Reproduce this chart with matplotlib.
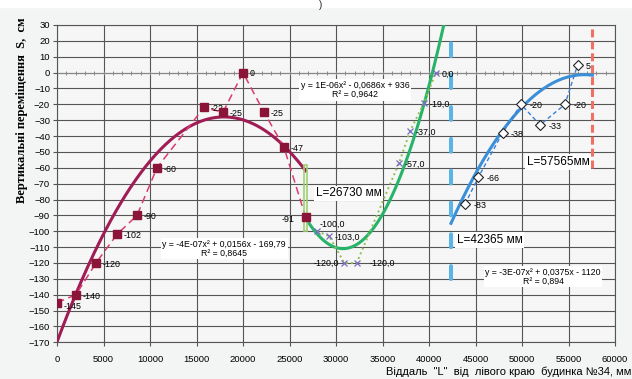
import matplotlib
matplotlib.use('Agg')
import matplotlib.pyplot as plt
import numpy as np

plt.rcParams['font.family'] = ['Liberation Sans', 'DejaVu Sans']

# ---- data ----
# series 1 (squares)
x1 = [0, 2040, 4190, 6450, 8600, 10750, 15800, 17850, 20000, 22260, 24400, 26730]
y1 = [-145, -140, -120, -102, -90, -60, -22, -25, 0, -25, -47, -91]
lab1 = ['-145', '-140', '-120', '-102', '-90', '-60', '-22', '-25', '0', '-25', '-47', '-91']
trend1 = [-4.4e-07, 0.0158, -169.79]
trend1_range = [0, 26730]
eq1 = 'y = -4E-07x² + 0,0156x - 169,79\nR² = 0,8645'

# series 2 (crosses)
x2 = [27960, 29250, 30900, 32220, 36780, 37960, 39460, 40750]
y2 = [-100, -103, -120, -120, -57, -37, -19, 0]
lab2 = ['-100,0', '-103,0', '-120,0', '-120,0', '-57,0', '-37,0', '-19,0', '0,0']
trend2 = [1.2e-06, -0.0738, 1023.7]
trend2_range = [26730, 41600]
eq2 = 'y = 1E-06x² - 0,0686x + 936\nR² = 0,9642'

# series 3 (diamonds)
x3 = [43870, 45300, 47920, 49890, 51940, 54620, 55990]
y3 = [-83, -66, -38, -20, -33, -20, 5]
lab3 = ['-83', '-66', '-38', '-20', '-33', '-20', '5']
trend3 = [-4.556e-07, 0.05167, -1466.3]
trend3_range = [42365, 57565]
eq3 = 'y = -3E-07x² + 0,0375x - 1120\nR² = 0,894'

# marked distances
L1, L1_low, L1_high = 26730, -100, -58
L2, L2_low = 42365, -130
L3, L3_low = 57565, -60

fig = plt.figure(figsize=(6.32, 3.79), dpi=100)
fig.patch.set_facecolor('#f3f4f4')
fig.patches.append(plt.Rectangle((0, 0.982), 1, 0.02, transform=fig.transFigure,
                                 color='white', zorder=0))
fig.text(0.508, 0.999, ')', fontsize=7, va='top', ha='center', color='#222222')

ax = fig.add_axes([57/632, 1-342.3/379, 558/632, 317.3/379])
ax.set_facecolor('#f6f6f6')
ax.set_xlim(0, 60000)
ax.set_ylim(-170, 30)
ax.set_xticks(np.arange(0, 60001, 5000))
ax.set_yticks(np.arange(-170, 31, 10))
ax.grid(True, color='#555555', lw=0.8)
ax.set_axisbelow(True)
for s in ax.spines.values():
    s.set_color('#555555')
    s.set_linewidth(0.8)
ax.tick_params(labelsize=6.8, length=3, color='#555555', pad=2)
ax.tick_params(axis='x', pad=6)

# zero line with minor ticks
ax.axhline(0, color='#888888', lw=0.8, zorder=1)
minor = np.arange(0, 60001, 1000)
ax.plot(minor, np.zeros_like(minor), ls='', marker='|', ms=3, mew=0.7,
        color='#888888', zorder=1)

# series 1
xx = np.linspace(trend1_range[0], trend1_range[1], 200)
ax.plot(xx, np.polyval(trend1, xx), color='#a01c55', lw=2.2, zorder=3)
ax.plot(x1, y1, color='#d93b72', lw=1.1, dashes=(5, 3), zorder=3)
ax.plot(x1, y1, ls='', marker='s', ms=6.3, color='#8b1538', zorder=5)
for i, (x, y, s) in enumerate(zip(x1, y1, lab1)):
    if i == len(x1) - 1:
        ax.annotate(s, (x, y), xytext=(-8, -2), textcoords='offset points',
                    ha='right', va='center', fontsize=6.4)
    elif i == 0:
        ax.annotate(s, (x, y), xytext=(5, -3), textcoords='offset points',
                    ha='left', va='center', fontsize=6.4)
    else:
        ax.annotate(s, (x, y), xytext=(5, -1), textcoords='offset points',
                    ha='left', va='center', fontsize=6.4)

# green bar at L1
ax.bar(L1, L1_high - L1_low, bottom=L1_low, width=330, fill=False,
       edgecolor='#9fcf70', lw=1.2, zorder=4)

# series 2
xx = np.linspace(trend2_range[0], trend2_range[1], 200)
ax.plot(xx, np.polyval(trend2, xx), color='#27b36a', lw=2.2, zorder=3)
ax.plot(x2, y2, color='#8fbf4f', lw=1.4, ls=(0, (1, 1.6)), zorder=3)
ax.plot(x2, y2, ls='', marker='x', ms=4.5, mew=0.9, color='#7a6cc0', zorder=5)
for i, (x, y, s) in enumerate(zip(x2, y2, lab2)):
    if i == 0:
        ax.annotate(s, (x, y), xytext=(2, 5), textcoords='offset points',
                    ha='left', va='center', fontsize=6.4)
    elif i == 2:
        ax.annotate(s, (x, y), xytext=(-4, 0), textcoords='offset points',
                    ha='right', va='center', fontsize=6.4)
    elif i == 3:
        ax.annotate(s, (x, y), xytext=(9, 0), textcoords='offset points',
                    ha='left', va='center', fontsize=6.4)
    else:
        ax.annotate(s, (x, y), xytext=(4, -1), textcoords='offset points',
                    ha='left', va='center', fontsize=6.4)

# series 3
xx = np.linspace(trend3_range[0], trend3_range[1], 200)
ax.plot(xx, np.polyval(trend3, xx), color='#3b8fd8', lw=2.2, zorder=3)
ax.plot(x3, y3, color='#3a7fd8', lw=1.0, dashes=(3, 2), zorder=3)
ax.plot(x3, y3, ls='', marker='D', ms=4.6, mfc='white', mec='#222222',
        mew=0.8, zorder=5)
for x, y, s in zip(x3, y3, lab3):
    ax.annotate(s, (x, y), xytext=(6, -1), textcoords='offset points',
                ha='left', va='center', fontsize=6.4)

# vertical markers
ax.vlines(L2, L2_low, 30, color='#5ab4e6', lw=2.9, linestyles=(0, (3.2, 4.7)),
          capstyle='round', zorder=2)
ax.vlines(L3, L3_low, 30, color='#f07063', lw=2.2, linestyles=(0, (2.6, 1.3)),
          zorder=2)

box = dict(facecolor='white', edgecolor='none', pad=1.2)
ax.text(27850, -76, 'L=%d мм' % L1, fontsize=8.5, ha='left', va='center',
        bbox=box, zorder=6)
ax.text(43010, -105.6, 'L=%d мм' % L2, fontsize=8.5, ha='left', va='center',
        bbox=box, zorder=6)
ax.text(50540, -56.4, 'L=%dмм' % L3, fontsize=8.5, ha='left', va='center',
        bbox=box, zorder=6)

ax.text(17960, -111, eq1, fontsize=6.3, ha='center', va='center',
        linespacing=1.0, bbox=box, zorder=6)
ax.text(32040, -11, eq2, fontsize=6.3, ha='center', va='center',
        linespacing=1.0, bbox=box, zorder=6)
ax.text(52260, -128.6, eq3, fontsize=6.3, ha='center', va='center',
        linespacing=1.0, bbox=box, zorder=6)

fig.text(22/632, 1-110/379, 'Вертикальні переміщення  S,  см',
         rotation=90, ha='center', va='center', fontsize=9,
         family=['Liberation Serif', 'DejaVu Serif'], fontweight='bold')
fig.text(631/632, 1-372/379, 'Віддаль  "L"  від  лівого краю  будинка №34, мм',
         ha='right', va='center', fontsize=8)

fig.savefig('out.png', dpi=100, facecolor=fig.get_facecolor())
